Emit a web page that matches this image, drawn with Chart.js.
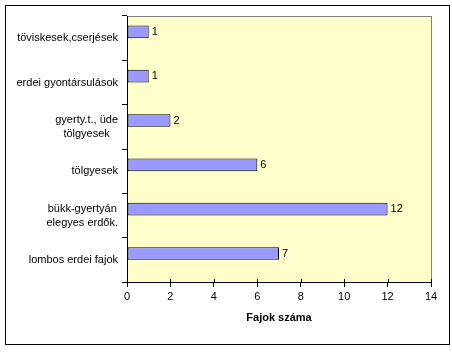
<!DOCTYPE html>
<html><head><meta charset="utf-8">
<script src="https://cdn.jsdelivr.net/npm/chart.js@4/dist/chart.umd.min.js"></script>
<style>html,body{margin:0;padding:0;background:#fff}#c{display:block}</style>
</head><body>
<canvas id="c" width="452" height="357"></canvas>
<script>
// ---- data ----
const categories = [
  ["töviskesek,cserjések"],
  ["erdei gyontársulások"],
  ["gyerty.t., üde", "tölgyesek"],
  ["tölgyesek"],
  ["bükk-gyertyán", "elegyes erdők."],
  ["lombos erdei fajok"]
];
const speciesCounts = [1, 1, 2, 6, 12, 7];
const emptySeries = [null, null, null, null, null, null];
const xAxisTitle = "Fajok száma";
const xMin = 0, xMax = 14, xStep = 2;

const FONT = '"Liberation Sans", Arial, sans-serif';
Chart.defaults.font.family = FONT;
Chart.defaults.font.size = 11;
Chart.defaults.color = '#000';

const decor = {
  id: 'decor',
  beforeDraw(chart) {
    const {ctx, chartArea: a} = chart;
    ctx.save();
    ctx.fillStyle = '#fff';
    ctx.fillRect(0, 0, chart.width, chart.height);
    ctx.fillStyle = '#FFFFCC';
    ctx.fillRect(a.left, a.top, a.right - a.left, a.bottom - a.top);
    ctx.strokeStyle = '#808080';
    ctx.lineWidth = 1;
    ctx.strokeRect(Math.round(a.left) + 0.5, Math.round(a.top) + 0.5, Math.round(a.right - a.left), Math.round(a.bottom - a.top));
    ctx.strokeStyle = '#000';
    ctx.strokeRect(5.5, 5.5, 444, 339);
    ctx.restore();
  },
  afterDraw(chart) {
    const {ctx} = chart;
    const ys = chart.scales.y, xs = chart.scales.x;
    ctx.save();
    // y category labels (multi-line blocks centered, right-aligned)
    ctx.font = '11px ' + FONT;
    ctx.fillStyle = '#000';
    ctx.textBaseline = 'middle';
    ctx.textAlign = 'center';
    categories.forEach((lines, i) => {
      const y = ys.getPixelForTick(i);
      const w = Math.max(...lines.map(l => ctx.measureText(l).width));
      const cx = ys.right - 9 - w / 2;
      lines.forEach((l, j) => {
        ctx.fillText(l, cx, y + (j - (lines.length - 1) / 2) * 14);
      });
    });
    // inner half of x-axis tick marks (cross ticks)
    ctx.strokeStyle = '#000';
    ctx.lineWidth = 1;
    ctx.beginPath();
    xs.ticks.forEach((t, i) => {
      const x = Math.round(xs.getPixelForTick(i)) + 0.5;
      ctx.moveTo(x, xs.top - 3);
      ctx.lineTo(x, xs.top);
    });
    ctx.stroke();
    // data labels
    const meta = chart.getDatasetMeta(0);
    ctx.textAlign = 'left';
    meta.data.forEach((el, i) => {
      ctx.fillText(String(speciesCounts[i]), el.x + 3, el.y);
    });
    ctx.restore();
  }
};

new Chart(document.getElementById('c'), {
  type: 'bar',
  data: {
    labels: categories,
    datasets: [
      { label: 'Fajok száma', data: speciesCounts, backgroundColor: '#9999FF', borderColor: '#000', borderWidth: 1, borderSkipped: false },
      { label: '', data: emptySeries, backgroundColor: '#9999FF', borderColor: '#000', borderWidth: 1 }
    ]
  },
  options: {
    indexAxis: 'y',
    responsive: false,
    devicePixelRatio: 1,
    animation: false,
    categoryPercentage: 0.57,
    barPercentage: 1.0,
    layout: { padding: { top: 16, right: 21, left: 0, bottom: 0 } },
    plugins: { legend: { display: false }, tooltip: { enabled: false } },
    scales: {
      x: {
        min: xMin, max: xMax,
        ticks: { stepSize: xStep, padding: 3, color: '#000', font: { size: 11 } },
        grid: { drawOnChartArea: false, tickLength: 5, color: '#000' },
        border: { color: '#000' },
        title: { display: true, text: xAxisTitle, font: { size: 11, weight: 'bold' }, color: '#000', padding: { top: 0, bottom: 32 } },
        afterFit(s) { s.height = 75; }
      },
      y: {
        ticks: { display: false },
        grid: { drawOnChartArea: false, tickLength: 5, color: '#000' },
        border: { color: '#000' },
        afterFit(s) { s.width = 127; }
      }
    }
  },
  plugins: [decor]
});
</script>
</body></html>
